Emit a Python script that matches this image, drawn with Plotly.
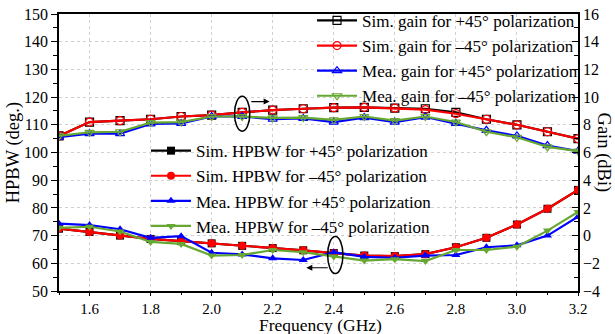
import plotly.graph_objects as go

freq = [1.5, 1.6, 1.7, 1.8, 1.9, 2.0, 2.1, 2.2, 2.3, 2.4, 2.5, 2.6, 2.7, 2.8, 2.9, 3.0, 3.1, 3.2]

# Gain (dBi) - right axis
sim_gain_p45 = [7.2, 8.2, 8.3, 8.4, 8.6, 8.7, 8.9, 9.06, 9.16, 9.24, 9.26, 9.2, 9.16, 8.9, 8.4, 8.0, 7.5, 7.0]
sim_gain_m45 = [7.2, 8.2, 8.3, 8.4, 8.6, 8.7, 8.9, 9.06, 9.16, 9.24, 9.26, 9.2, 9.1, 8.8, 8.4, 8.0, 7.5, 7.0]
mea_gain_p45 = [7.1, 7.36, 7.36, 8.06, 8.1, 8.6, 8.6, 8.4, 8.46, 8.2, 8.52, 8.2, 8.56, 8.1, 7.6, 7.2, 6.5, 6.1]
mea_gain_m45 = [7.2, 7.46, 7.5, 8.16, 8.2, 8.6, 8.6, 8.5, 8.52, 8.36, 8.6, 8.3, 8.6, 8.2, 7.5, 7.1, 6.4, 6.1]

# HPBW (deg.) - left axis
sim_hpbw_p45 = [72.5, 71.3, 70.0, 68.8, 68.0, 67.2, 66.3, 65.5, 64.7, 63.7, 62.8, 62.6, 63.3, 65.8, 69.2, 74.0, 79.7, 86.5]
sim_hpbw_m45 = [72.5, 71.3, 70.0, 68.8, 68.0, 67.2, 66.3, 65.5, 64.7, 63.7, 62.8, 62.6, 63.3, 65.8, 69.2, 74.0, 79.7, 86.5]
mea_hpbw_p45 = [74.3, 73.8, 72.3, 69.2, 69.8, 63.8, 63.2, 61.8, 61.2, 64.0, 62.3, 62.0, 62.8, 63.0, 65.8, 66.5, 70.0, 76.8]
mea_hpbw_m45 = [72.8, 73.2, 71.5, 67.7, 67.0, 62.8, 63.0, 64.8, 64.0, 62.5, 61.0, 61.5, 60.8, 64.8, 64.8, 66.0, 71.8, 78.5]

BLACK = "#000000"
RED = "#FF0000"
BLUE = "#0000FF"
GREEN = "#66A832"
SERIF = "Times New Roman, Liberation Serif, serif"

fig = go.Figure()

gain_series = [
    ("Sim. gain for +45° polarization", sim_gain_p45, BLACK, "square-open"),
    ("Sim. gain for \u201345° polarization", sim_gain_m45, RED, "circle-open"),
    ("Mea. gain for +45° polarization", mea_gain_p45, BLUE, "triangle-up-open"),
    ("Mea. gain for \u201345° polarization", mea_gain_m45, GREEN, "triangle-down-open"),
]
for name, vals, col, sym in gain_series:
    fig.add_trace(go.Scatter(
        x=freq, y=vals, name=name, yaxis="y2", mode="lines+markers",
        line=dict(color=col, width=2.2),
        marker=dict(symbol=sym, size=8, color=col, line=dict(width=1.2, color=col)),
        legend="legend",
    ))

hpbw_series = [
    ("Sim. HPBW for +45° polarization", sim_hpbw_p45, BLACK, "square"),
    ("Sim. HPBW for \u201345° polarization", sim_hpbw_m45, RED, "circle"),
    ("Mea. HPBW for +45° polarization", mea_hpbw_p45, BLUE, "triangle-up"),
    ("Mea. HPBW for \u201345° polarization", mea_hpbw_m45, GREEN, "triangle-down"),
]
for name, vals, col, sym in hpbw_series:
    fig.add_trace(go.Scatter(
        x=freq, y=vals, name=name, yaxis="y", mode="lines+markers",
        line=dict(color=col, width=2.2),
        marker=dict(symbol=sym, size=8, color=col),
        legend="legend2",
    ))

# ellipses
fig.add_shape(type="circle", xref="x", yref="y", x0=2.075, x1=2.125, y0=107.7, y1=120.3,
              line=dict(color="black", width=1.5))
fig.add_shape(type="circle", xref="x", yref="y", x0=2.38, x1=2.43, y0=56.3, y1=69.7,
              line=dict(color="black", width=1.5))
# arrows
fig.add_annotation(x=2.19, y=118.4, ax=2.125, ay=118.4, xref="x", yref="y", axref="x", ayref="y",
                   showarrow=True, arrowhead=2, arrowsize=1, arrowwidth=1.2, arrowcolor="black", text="")
fig.add_annotation(x=2.31, y=58.4, ax=2.385, ay=58.4, xref="x", yref="y", axref="x", ayref="y",
                   showarrow=True, arrowhead=2, arrowsize=1, arrowwidth=1.2, arrowcolor="black", text="")

# axis titles
title_font = dict(family=SERIF, size=18.5, color="black")
fig.add_annotation(text="Gain (dBi)", xref="paper", yref="paper", x=1.05, y=0.5,
                   xanchor="center", yanchor="middle",
                   textangle=90, showarrow=False, font=title_font)
fig.add_annotation(text="HPBW (deg.)", xref="paper", yref="paper", x=-0.087, y=0.5,
                   xanchor="center", yanchor="middle",
                   textangle=-90, showarrow=False, font=title_font)
fig.add_annotation(text="Frequency (GHz)", xref="paper", yref="paper", x=0.503, y=-0.121,
                   xanchor="center", yanchor="middle", borderpad=0,
                   showarrow=False, font=dict(family=SERIF, size=17.5, color="black"))

tickfont = dict(family=SERIF, size=16, color="black")
fig.update_layout(
    width=615, height=334,
    margin=dict(l=59, r=37, t=14, b=43, autoexpand=False),
    paper_bgcolor="white", plot_bgcolor="white",
    showlegend=True,
    xaxis=dict(
        range=[1.5, 3.2], tickvals=[1.6, 1.8, 2.0, 2.2, 2.4, 2.6, 2.8, 3.0, 3.2],
        ticktext=["1.6", "1.8", "2.0", "2.2", "2.4", "2.6", "2.8", "3.0", "3.2"],
        showline=True, linecolor="black", linewidth=1.5, mirror=True,
        ticks="outside", ticklen=3, tickwidth=1.2, tickcolor="black",
        minor=dict(dtick=0.1, tick0=1.5, ticks="outside", ticklen=2, tickcolor="black", showgrid=False),
        showgrid=True, gridcolor="#d0d0d0", griddash="dot", gridwidth=1,
        tickfont=dict(family=SERIF, size=15, color="black"), zeroline=False, automargin=False,
    ),
    yaxis=dict(
        range=[50, 150], dtick=10, tick0=50,
        showline=True, linecolor="black", linewidth=1.5,
        ticks="outside", ticklen=6, tickwidth=1.2, tickcolor="black",
        minor=dict(dtick=5, tick0=50, ticks="outside", ticklen=4, tickcolor="black", showgrid=False),
        showgrid=True, gridcolor="#d0d0d0", griddash="dot", gridwidth=1,
        tickfont=tickfont, zeroline=False, automargin=False,
    ),
    yaxis2=dict(
        range=[-4, 16], dtick=2, tick0=-4, overlaying="y", side="right",
        showline=True, linecolor="black", linewidth=1.5,
        ticks="inside", ticklen=6, tickwidth=1.2, tickcolor="black",
        minor=dict(dtick=1, tick0=-4, ticks="inside", ticklen=4, tickcolor="black", showgrid=False),
        showgrid=False, tickfont=tickfont, zeroline=False, automargin=False,
    ),
    legend=dict(
        x=0.4875, y=1.04, xanchor="left", yanchor="top",
        bgcolor="rgba(255,255,255,0)", borderwidth=0,
        font=dict(family=SERIF, size=17, color="black"),
        itemwidth=40, tracegroupgap=0,
    ),
    legend2=dict(
        x=0.1676, y=0.57, xanchor="left", yanchor="top",
        bgcolor="rgba(255,255,255,0)", borderwidth=0,
        font=dict(family=SERIF, size=17, color="black"),
        itemwidth=40, tracegroupgap=0,
    ),
)

fig.write_html("out.html")
